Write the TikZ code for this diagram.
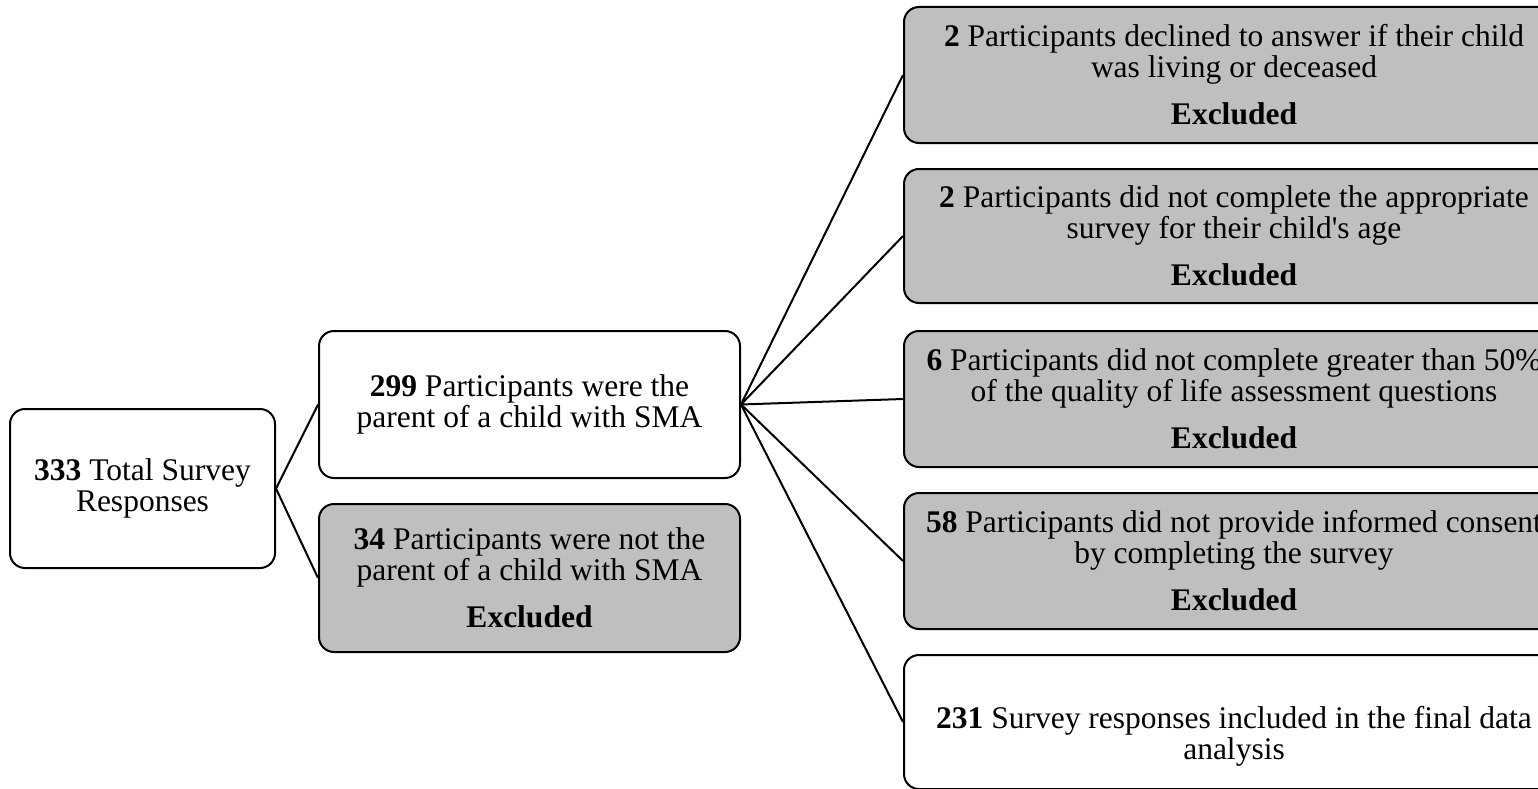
\documentclass[tikz,border=0pt]{standalone}
\usepackage{fontspec}
\setmainfont{Liberation Serif}
\usepackage{xcolor}
\usepackage{tikz}
\usetikzlibrary{positioning}

\definecolor{exclGray}{RGB}{191,191,191}

\begin{document}
\begin{tikzpicture}[x=1pt,y=-1pt,font=\fontsize{31.5}{31}\selectfont]
    \tikzset{
        keptBox/.style={draw,line width=2pt,rounded corners=15pt,fill=white,align=center,inner sep=0pt},
        excludedBox/.style={keptBox,fill=exclGray},
        link/.style={line width=2pt}
    }
    \useasboundingbox (0,0) rectangle (1538,789);
    \clip (0,0) rectangle (1538,789);
    % first split
    \node[keptBox,minimum width=265,minimum height=159] (total) at (142.5,488.5)
        {\textbf{333} Total Survey\\Responses};
    \node[keptBox,minimum width=421,minimum height=147] (parent) at (529.5,404.5)
        {\textbf{299} Participants were the\\parent of a child with SMA};
    \node[excludedBox,minimum width=421,minimum height=148] (notparent) at (529.5,578)
        {\textbf{34} Participants were not the\\parent of a child with SMA\\[16pt]\textbf{Excluded}};
    \draw[link] (total.east) -- (parent.west);
    \draw[link] (total.east) -- (notparent.west);
    % second split
    \node[excludedBox,minimum width=660,minimum height=136] (declined) at (1234,75)
        {\textbf{2} Participants declined to answer if their child\\was living or deceased\\[16pt]\textbf{Excluded}};
    \node[excludedBox,minimum width=660,minimum height=134] (wrongage) at (1234,236)
        {\textbf{2} Participants did not complete the appropriate\\survey for their child\textquotesingle s age\\[16pt]\textbf{Excluded}};
    \node[excludedBox,minimum width=660,minimum height=136] (partial) at (1234,399)
        {\textbf{6} Participants did not complete greater than 50\%\\of the quality of life assessment questions\\[16pt]\textbf{Excluded}};
    \node[excludedBox,minimum width=660,minimum height=136] (noconsent) at (1234,561)
        {\textbf{58} Participants did not provide informed consent\\by completing the survey\\[16pt]\textbf{Excluded}};
    \node[keptBox,minimum width=660,minimum height=134] (final) at (1234,722)
        {\rule{0pt}{50pt}\textbf{231} Survey responses included in the final data\\analysis};
    \foreach \n in {declined,wrongage,partial,noconsent,final} {
        \draw[link] (parent.east) -- (\n.west);
    }
\end{tikzpicture}
\end{document}
